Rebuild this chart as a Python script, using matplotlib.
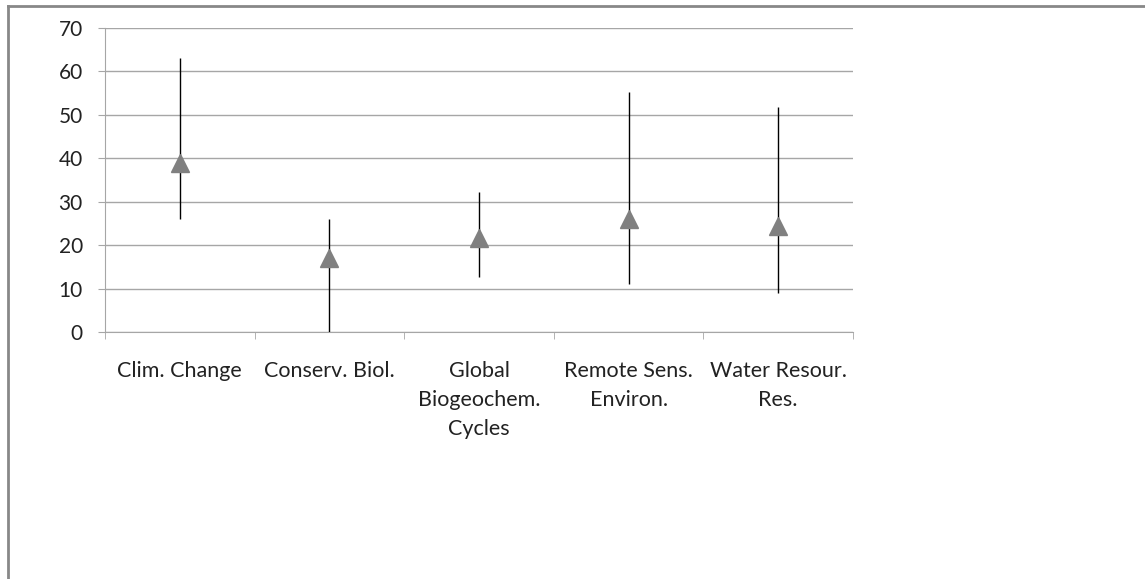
import matplotlib
matplotlib.use("Agg")
import matplotlib.pyplot as plt
import numpy as np
from matplotlib.lines import Line2D

# dados
categorias = ["Clim. Change", "Conserv. Biol.", "Global\nBiogeochem.\nCycles",
              "Remote Sens.\nEnviron.", "Water Resour.\nRes."]
valores = [39.0, 17.0, 21.6, 26.0, 24.4]
minimos = [26.0, 0.0, 12.7, 11.0, 9.0]
maximos = [63.0, 26.0, 32.2, 55.3, 51.8]

plt.rcParams['font.family'] = ['Lato', 'DejaVu Sans']

fig = plt.figure(figsize=(11.45, 5.79), dpi=100)
ax = fig.add_axes([105 / 1145, (579 - 332) / 579, (853 - 105) / 1145, (332 - 28) / 579])

x = np.arange(len(categorias))
v = np.array(valores)
err = [v - np.array(minimos), np.array(maximos) - v]

ax.errorbar(x, v, yerr=err, fmt='none', ecolor='black', elinewidth=1, capsize=0, zorder=3)
ax.plot(x, v, linestyle='none', marker='^', markersize=13, color='#808080', zorder=4)

ax.set_xlim(-0.5, len(categorias) - 0.5)
ax.set_ylim(0, 70)
ax.set_yticks(range(0, 71, 10))
ax.yaxis.grid(True, color='#a6a6a6', linewidth=1)
ax.set_axisbelow(True)

ax.set_xticks(x)
ax.set_xticklabels(categorias, fontsize=15.5, color='#222222', linespacing=1.55)
ax.set_xticks(np.arange(-0.5, len(categorias), 1), minor=True)
ax.tick_params(axis='x', which='major', length=0, pad=21)
ax.tick_params(axis='x', which='minor', length=5, color='#a6a6a6', direction='out')
ax.tick_params(axis='y', length=5, color='#a6a6a6', labelsize=15, labelcolor='#222222', pad=11)

for lado in ['top', 'right']:
    ax.spines[lado].set_visible(False)
for lado in ['left', 'bottom']:
    ax.spines[lado].set_color('#a6a6a6')

# moldura (só topo e esquerda aparecem no recorte)
fig.add_artist(Line2D([8 / 1145, 1], [1 - 6 / 579, 1 - 6 / 579], color='#888888', linewidth=2))
fig.add_artist(Line2D([8 / 1145, 8 / 1145], [0, 1 - 6 / 579], color='#888888', linewidth=2))

fig.savefig("out.png", dpi=100)
